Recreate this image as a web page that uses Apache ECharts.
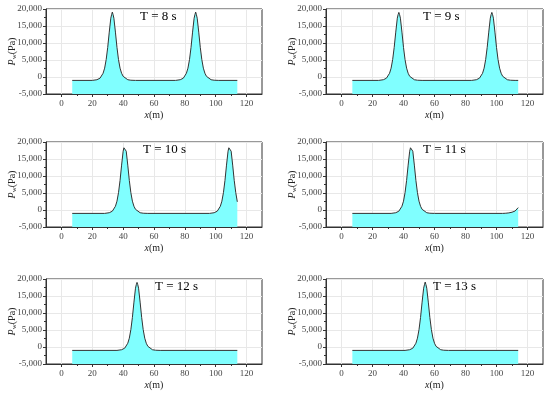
<!DOCTYPE html>
<html><head><meta charset="utf-8">
<script src="https://cdn.jsdelivr.net/npm/echarts@6/dist/echarts.min.js"></script>
<style>html,body{margin:0;padding:0;background:#fff}#c{width:550px;height:393px}</style>
</head><body><div id="c"></div>
<script>
const titles = ['T = 8 s','T = 9 s','T = 10 s','T = 11 s','T = 12 s','T = 13 s'];
const xTicks = [0,20,40,60,80,100,120];
const xMinor = [10,30,50,70,90,110];
const yTicks = [-5000,0,5000,10000,15000,20000];

const dataT8 = [[7,-1000],[20,-1000],[21,-950],[23,-800],[25,-350],[26,200],[27,1100],[28,2600],[29,5100],[30,8700],[31,13200],[32,17300],[32.5,18300],[33,19100],[33.5,18300],[34,17300],[35,13200],[36,8700],[37,5100],[38,2600],[39,1100],[40,200],[41,-350],[43,-800],[45,-950],[48,-1000],[74,-1000],[75,-950],[77,-800],[79,-350],[80,200],[81,1100],[82,2600],[83,5100],[84,8700],[85,13200],[86,17300],[86.5,18300],[87,19100],[87.5,18300],[88,17300],[89,13200],[90,8700],[91,5100],[92,2600],[93,1100],[94,200],[95,-350],[97,-800],[99,-950],[102,-1000],[114,-1000]];
const dataT9 = [[7,-1000],[24,-1000],[25,-950],[27,-800],[29,-350],[30,200],[31,1100],[32,2600],[33,5100],[34,8700],[35,13200],[36,17300],[36.5,18300],[37,19000],[37.5,18300],[38,17300],[39,13200],[40,8700],[41,5100],[42,2600],[43,1100],[44,200],[45,-350],[47,-800],[49,-950],[52,-1000],[84,-1000],[85,-950],[87,-800],[89,-350],[90,200],[91,1100],[92,2600],[93,5100],[94,8700],[95,13200],[96,17300],[96.5,18300],[97,19000],[97.5,18300],[98,17300],[99,13200],[100,8700],[101,5100],[102,2600],[103,1100],[104,200],[105,-350],[107,-800],[109,-950],[112,-1000],[114,-1000]];
const dataT10 = [[7,-1000],[28,-1000],[29,-950],[31,-800],[33,-350],[34,200],[35,1100],[36,2600],[37,5100],[38,8700],[39,13200],[40,17300],[40.5,18300],[41,18800],[41.5,18300],[42,17300],[43,13200],[44,8700],[45,5100],[46,2600],[47,1100],[48,200],[49,-350],[51,-800],[53,-950],[56,-1000],[96,-1000],[97,-950],[99,-800],[101,-350],[102,200],[103,1100],[104,2600],[105,5100],[106,8700],[107,13200],[108,17300],[108.5,18300],[109,18800],[109.5,18300],[110,17300],[111,13200],[112,8700],[113,5100],[114,2400]];
const dataT11 = [[7,-1000],[32,-1000],[33,-950],[35,-800],[37,-350],[38,200],[39,1100],[40,2600],[41,5100],[42,8700],[43,13200],[44,17300],[44.5,18300],[45,18800],[45.5,18300],[46,17300],[47,13200],[48,8700],[49,5100],[50,2600],[51,1100],[52,200],[53,-350],[55,-800],[57,-950],[60,-1000],[104,-1000],[106,-950],[108,-850],[110,-650],[112,-300],[113,100],[114,700]];
const dataT12 = [[7,-1000],[36,-1000],[37,-950],[39,-800],[41,-350],[42,200],[43,1100],[44,2600],[45,5100],[46,8700],[47,13200],[48,17300],[48.5,18300],[49,19000],[49.5,18300],[50,17300],[51,13200],[52,8700],[53,5100],[54,2600],[55,1100],[56,200],[57,-350],[59,-800],[61,-950],[64,-1000],[114,-1000]];
const dataT13 = [[7,-1000],[41,-1000],[42,-950],[44,-800],[46,-350],[47,200],[48,1100],[49,2600],[50,5100],[51,8700],[52,13200],[53,17300],[53.5,18300],[54,19100],[54.5,18300],[55,17300],[56,13200],[57,8700],[58,5100],[59,2600],[60,1100],[61,200],[62,-350],[64,-800],[66,-950],[69,-1000],[114,-1000]];
const allData = [dataT8,dataT9,dataT10,dataT11,dataT12,dataT13];

const serif = 'Liberation Serif';
const grids = [
  {left:46, top:9, width:216, height:85},
  {left:326, top:9, width:217, height:85},
  {left:46, top:142, width:216, height:85},
  {left:326, top:142, width:217, height:85},
  {left:46, top:279, width:216, height:85},
  {left:326, top:279, width:217, height:85}
];
const titlePos = [[140,10],[423,10],[143,143],[423,143],[155,280],[433,280]];

const option = {animation:false, grid:[], xAxis:[], yAxis:[], series:[], title:[]};
grids.forEach((g,i)=>{
  option.grid.push(Object.assign({show:true, borderColor:'#333', borderWidth:1, backgroundColor:'transparent'}, g));
  option.title.push({text:titles[i], left:titlePos[i][0], top:titlePos[i][1], padding:0,
    textStyle:{fontFamily:serif, fontSize:13, fontWeight:'normal', color:'#000'}});
  option.xAxis.push({type:'value', gridIndex:i, min:-10, max:130, interval:10,
    name:'{i|x}(m)', nameLocation:'middle', nameGap:16, nameMoveOverlap:false,
    nameTextStyle:{fontFamily:serif, fontSize:10, color:'#222', rich:{i:{fontStyle:'italic', fontFamily:serif, fontSize:10}}},
    axisLine:{show:true, onZero:false, lineStyle:{color:'#333', width:1}},
    axisTick:{show:true, inside:false, length:3, customValues:xTicks, lineStyle:{color:'#333'}},
    axisLabel:{customValues:xTicks, fontFamily:serif, fontSize:9, color:'#444', margin:5},
    splitLine:{show:true, lineStyle:{color:'#e8e8e8', width:1}}
  });
  option.xAxis.push({type:'value', gridIndex:i, min:-10, max:130, interval:10, position:'bottom',
    axisLine:{show:false, onZero:false}, axisLabel:{show:false}, splitLine:{show:false},
    axisTick:{show:true, length:2, customValues:xMinor, lineStyle:{color:'#333'}}});
  option.yAxis.push({type:'value', gridIndex:i, min:-5000, max:20000, interval:5000,
    name:'{i|P}{s|w}(Pa)', nameLocation:'middle', nameGap:28, nameMoveOverlap:false,
    nameTextStyle:{fontFamily:serif, fontSize:10, color:'#222', rich:{i:{fontStyle:'italic', fontFamily:serif, fontSize:10}, s:{fontFamily:serif, fontSize:7, verticalAlign:'bottom', padding:[4,0,0,0]}}},
    axisLine:{show:true, onZero:false, lineStyle:{color:'#333', width:1}},
    axisTick:{show:true, inside:false, length:3, lineStyle:{color:'#333'}},
    minorTick:{show:true, splitNumber:2, length:2, lineStyle:{color:'#333'}},
    axisLabel:{fontFamily:serif, fontSize:9, color:'#444', margin:4, formatter:v=>v.toLocaleString('en-US')},
    splitLine:{show:true, lineStyle:{color:'#e8e8e8', width:1}}
  });
  option.series.push({type:'line', xAxisIndex:i*2, yAxisIndex:i, data:allData[i], showSymbol:false, symbol:'none',
    lineStyle:{color:'#333', width:1}, areaStyle:{color:'#80FFFF', opacity:1, origin:'start'}, z:1});
});
const chart = echarts.init(document.getElementById('c'), null, {renderer:'canvas'});
chart.setOption(option);
</script></body></html>
